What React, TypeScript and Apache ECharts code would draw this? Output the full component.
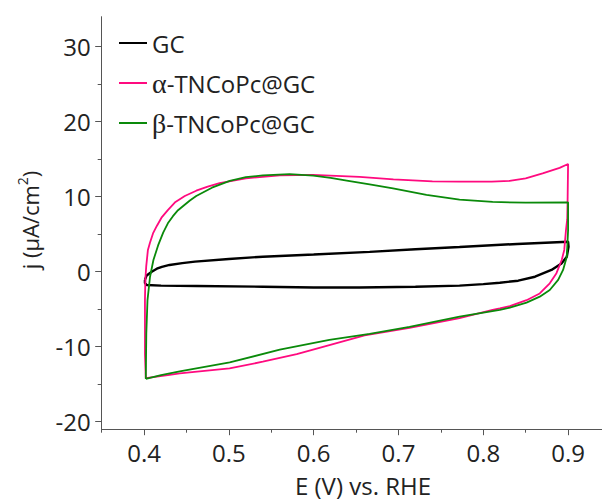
import React, { useEffect, useRef } from "react";
import * as echarts from "echarts";

const seriesNames = ["GC", "α-TNCoPc@GC", "β-TNCoPc@GC"];
const seriesColors = ["#000000", "#ff0a7f", "#0a8a0a"];

const gcLoop: [number, number][] = [
  [0.401, -1.1], [0.403, -0.5], [0.409, 0.0], [0.415, 0.4], [0.421, 0.65], [0.43, 0.9],
  [0.445, 1.15], [0.46, 1.35], [0.5, 1.7], [0.54, 2.0], [0.6, 2.3], [0.666, 2.65],
  [0.72, 3.0], [0.772, 3.3], [0.84, 3.7], [0.9, 4.0], [0.9005, 3.33], [0.8985, 2.0],
  [0.8922, 1.1], [0.8804, 0.23], [0.861, -0.67], [0.8412, -1.2], [0.8195, -1.47],
  [0.8, -1.65], [0.772, -1.85], [0.72, -2.0], [0.654, -2.1], [0.6, -2.1], [0.54, -2.0],
  [0.462, -1.9], [0.42, -1.85], [0.403, -1.77], [0.401, -1.5], [0.401, -1.1],
];

const alphaLoop: [number, number][] = [
  [0.402, -14.2], [0.401, -11.0], [0.401, -8.2], [0.401, -3.8], [0.4015, -1.0], [0.4025, 0.7],
  [0.4045, 2.9], [0.407, 3.9], [0.4105, 5.1], [0.415, 6.1], [0.4205, 7.2], [0.428, 8.2],
  [0.437, 9.3], [0.448, 10.1], [0.4615, 10.8], [0.475, 11.35], [0.489, 11.8], [0.52, 12.45],
  [0.56, 12.85], [0.599, 12.9], [0.654, 12.65], [0.694, 12.3], [0.74, 12.05], [0.772, 12.0],
  [0.81, 12.0], [0.831, 12.1], [0.85, 12.45], [0.87, 13.1], [0.89, 13.85], [0.9, 14.36],
  [0.8995, 10.0], [0.899, 7.0], [0.8975, 5.5], [0.8955, 2.9], [0.8925, 1.56], [0.8863, -0.2],
  [0.8784, -1.55], [0.8666, -2.9], [0.851, -3.8], [0.8313, -4.6], [0.8195, -4.9], [0.811, -5.1],
  [0.772, -6.2], [0.713, -7.5], [0.66, -8.5], [0.6185, -9.8], [0.58, -11.0], [0.54, -12.0],
  [0.5008, -12.9], [0.4595, -13.35], [0.442, -13.55], [0.428, -13.8], [0.402, -14.2],
];

const betaLoop: [number, number][] = [
  [0.402, -14.3], [0.4026, -8.2], [0.404, -3.8], [0.407, -0.67], [0.411, 1.56], [0.4165, 3.5],
  [0.4225, 5.2], [0.428, 6.45], [0.434, 7.4], [0.44, 8.2], [0.454, 9.5], [0.4615, 10.1],
  [0.48, 11.2], [0.501, 12.1], [0.52, 12.6], [0.54, 12.85], [0.5715, 13.0], [0.5995, 12.8],
  [0.62, 12.5], [0.639, 12.15], [0.666, 11.65], [0.6935, 11.1], [0.733, 10.25], [0.772, 9.6],
  [0.811, 9.3], [0.85, 9.2], [0.9, 9.25], [0.9, 5.5], [0.8985, 2.0], [0.8941, 0.23],
  [0.8883, -1.1], [0.8784, -2.44], [0.8666, -3.33], [0.851, -4.13], [0.8313, -4.8],
  [0.8195, -5.1], [0.772, -6.0], [0.713, -7.35], [0.666, -8.3], [0.6185, -9.1], [0.56, -10.4],
  [0.501, -12.1], [0.442, -13.3], [0.42, -13.8], [0.402, -14.3],
];

const xMajorTicks = [0.4, 0.5, 0.6, 0.7, 0.8, 0.9];
const xMinorTicks = [0.35, 0.45, 0.55, 0.65, 0.75, 0.85];
const yMajorTicks = [-20, -10, 0, 10, 20, 30];
const yMinorTicks = [-15, -5, 5, 15, 25];
const xRange = [0.35, 0.94];
const yRange = [-21, 34];
const xTitle = "E (V) vs. RHE";

const FONT = "'Open Sans', 'Noto Sans', sans-serif";
const AXIS_COLOR = "#555";
const TEXT_COLOR = "#222";

export default function App() {
  const ref = useRef<HTMLDivElement>(null);
  useEffect(() => {
    if (!ref.current) return;
    const chart = echarts.init(ref.current, undefined, { renderer: "svg" });
    const loops = [gcLoop, alphaLoop, betaLoop];
    const grid = { left: 101.7, top: 16.7, right: 0, bottom: 69.8 };
    const xBase = {
      type: "value",
      min: xRange[0],
      max: xRange[1],
      splitLine: { show: false },
      axisLine: { show: true, onZero: false, lineStyle: { color: AXIS_COLOR, width: 1 } },
    };
    const yBase = {
      type: "value",
      min: yRange[0],
      max: yRange[1],
      splitLine: { show: false },
      axisLine: { show: true, onZero: false, lineStyle: { color: AXIS_COLOR, width: 1 } },
    };
    chart.setOption({
      animation: false,
      backgroundColor: "#ffffff",
      grid,
      xAxis: [
        {
          ...xBase,
          axisTick: { show: true, customValues: xMajorTicks, length: 6, lineStyle: { color: AXIS_COLOR } },
          axisLabel: {
            show: true,
            customValues: xMajorTicks,
            formatter: (v: number) => v.toFixed(1),
            color: TEXT_COLOR,
            fontFamily: FONT,
            fontSize: 24,
            margin: 11,
          },
        },
        {
          ...xBase,
          position: "bottom",
          axisLine: { show: false, onZero: false },
          axisTick: { show: true, customValues: xMinorTicks, length: 3.5, lineStyle: { color: AXIS_COLOR } },
          axisLabel: { show: false },
        },
      ],
      yAxis: [
        {
          ...yBase,
          axisTick: { show: true, customValues: yMajorTicks, length: 6.5, lineStyle: { color: AXIS_COLOR } },
          axisLabel: {
            show: true,
            customValues: yMajorTicks,
            formatter: (v: number) => String(v),
            color: TEXT_COLOR,
            fontFamily: FONT,
            fontSize: 24,
            margin: 11,
          },
        },
        {
          ...yBase,
          position: "left",
          axisLine: { show: false, onZero: false },
          axisTick: { show: true, customValues: yMinorTicks, length: 4, lineStyle: { color: AXIS_COLOR } },
          axisLabel: { show: false },
        },
      ],
      legend: {
        orient: "vertical",
        left: 114,
        top: 18,
        icon: "rect",
        itemWidth: 28,
        itemHeight: 2,
        itemGap: 0,
        data: seriesNames,
        formatter: (name: string) => {
          const c = name.charAt(0);
          if (c === "α" || c === "β") return `{g|${c}}{t|${name.slice(1)}}`;
          return `{t|${name}}`;
        },
        textStyle: {
          color: TEXT_COLOR,
          fontFamily: FONT,
          fontSize: 24,
          lineHeight: 40,
          rich: {
            t: { fontFamily: FONT, fontSize: 24, color: TEXT_COLOR, lineHeight: 40 },
            g: { fontFamily: "'Liberation Serif', 'DejaVu Serif', serif", fontSize: 28, color: TEXT_COLOR, lineHeight: 40 },
          },
        },
      },
      graphic: [
        {
          type: "text",
          x: 30,
          y: 220,
          rotation: Math.PI / 2,
          style: {
            text: "{a|j (μA/cm}{s|2}{a|)}",
            align: "center",
            verticalAlign: "middle",
            rich: {
              a: { fontFamily: FONT, fontSize: 22, fill: TEXT_COLOR, lineHeight: 30 },
              s: { fontFamily: FONT, fontSize: 14, fill: TEXT_COLOR, lineHeight: 30, verticalAlign: "top", padding: [0, 0, 12, 0] },
            },
          },
        },
        {
          type: "text",
          x: 363,
          y: 485,
          style: {
            text: xTitle,
            align: "center",
            verticalAlign: "middle",
            fontFamily: FONT,
            fontSize: 24,
            fill: TEXT_COLOR,
          },
        },
      ],
      series: seriesNames.map((name, i) => ({
        name,
        type: "line",
        data: loops[i],
        xAxisIndex: 0,
        yAxisIndex: 0,
        showSymbol: false,
        symbol: "none",
        smooth: false,
        clip: false,
        lineStyle: { color: seriesColors[i], width: i === 0 ? 2.4 : 1.8 },
        itemStyle: { color: seriesColors[i] },
      })),
    });
    return () => chart.dispose();
  }, []);
  return <div ref={ref} style={{ position: "fixed", left: 0, top: 0, width: 602, height: 499 }} />;
}
